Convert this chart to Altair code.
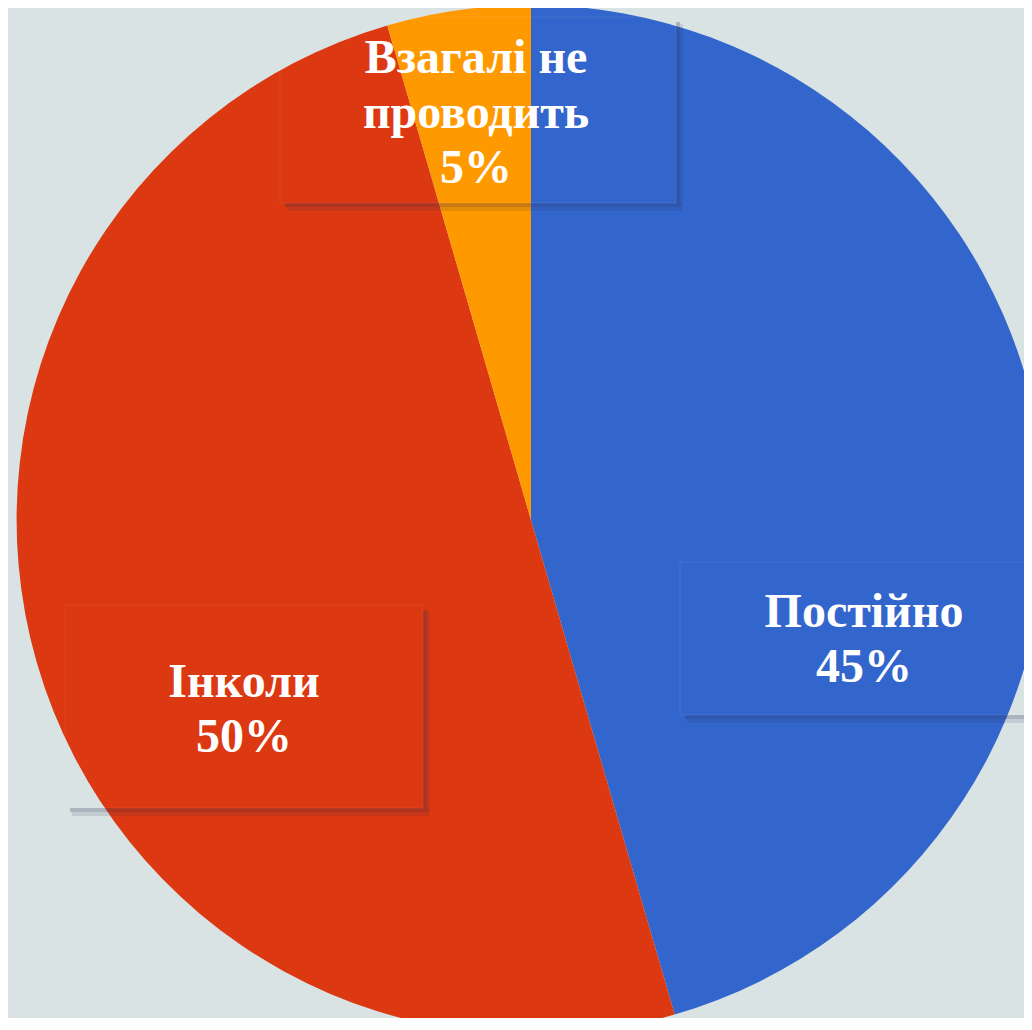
import altair as alt
import pandas as pd

categories = ["Постійно", "Інколи", "Взагалі не проводить"]
values = [45.5, 50.0, 4.5]
labels = ["Постійно\n45%", "Інколи\n50%", "Взагалі не\nпроводить\n5%"]
colors = ["#3366cc", "#dc3912", "#ff9900"]

df = pd.DataFrame({
    "cat": categories,
    "value": values,
    "label": labels,
    "idx": list(range(len(categories))),
})

W, H = 1016, 1010
CX, CY, R = 523, 512, 515

base = alt.Chart(df)

pie = base.mark_arc(outerRadius=R, stroke=None).encode(
    theta=alt.Theta("value:Q", stack=True),
    order=alt.Order("idx:Q"),
    color=alt.Color("cat:N", scale=alt.Scale(domain=categories, range=colors), legend=None),
    x=alt.value(CX),
    y=alt.value(CY),
)

one = alt.Data(values=[{"a": 1}])


def rect(x0, y0, x1, y1, color, opacity):
    return alt.Chart(one).mark_rect(color=color, opacity=opacity).encode(
        x=alt.value(x0), x2=alt.value(x1), y=alt.value(y0), y2=alt.value(y1)
    )


def shadow(x0, y0, x1, y1):
    layers = []
    # bottom band
    layers.append(rect(x0 + 5, y1, x1 + 5, y1 + 4, "#2a2850", 0.26))
    layers.append(rect(x0 + 7, y1 + 4, x1 + 6, y1 + 8, "#2a2850", 0.12))
    # right band
    layers.append(rect(x1, y0 + 5, x1 + 4, y1, "#2a2850", 0.26))
    layers.append(rect(x1 + 4, y0 + 7, x1 + 7, y1 + 4, "#2a2850", 0.12))
    # faint box edge
    layers.append(
        alt.Chart(one).mark_rect(fillOpacity=0, stroke="#ffffff", strokeOpacity=0.05, strokeWidth=1.5).encode(
            x=alt.value(x0), x2=alt.value(x1), y=alt.value(y0), y2=alt.value(y1)
        )
    )
    return layers


boxes = []
boxes += shadow(272, 9, 668, 195)
boxes += shadow(672, 554, 1040, 707)
boxes += shadow(57, 597, 415, 800)

text_pos = {
    "Взагалі не проводить": (468, 65),
    "Постійно": (856, 619),
    "Інколи": (236, 689),
}

texts = []
for c in categories:
    tx, ty = text_pos[c]
    texts.append(
        base.transform_filter(alt.datum.cat == c).mark_text(
            font="Liberation Serif",
            fontWeight="bold",
            fontSize=48,
            color="#ffffff",
            align="center",
            baseline="alphabetic",
            lineBreak="\n",
            lineHeight=55,
        ).encode(text="label:N", x=alt.value(tx), y=alt.value(ty))
    )

chart = alt.layer(pie, *boxes, *texts).properties(
    width=W,
    height=H,
    autosize=alt.AutoSizeParams(type="none"),
    padding=0,
    background="#d9e3e4",
).configure_view(stroke=None)

chart.save("out.html", embed_options={"renderer": "svg", "actions": False})
